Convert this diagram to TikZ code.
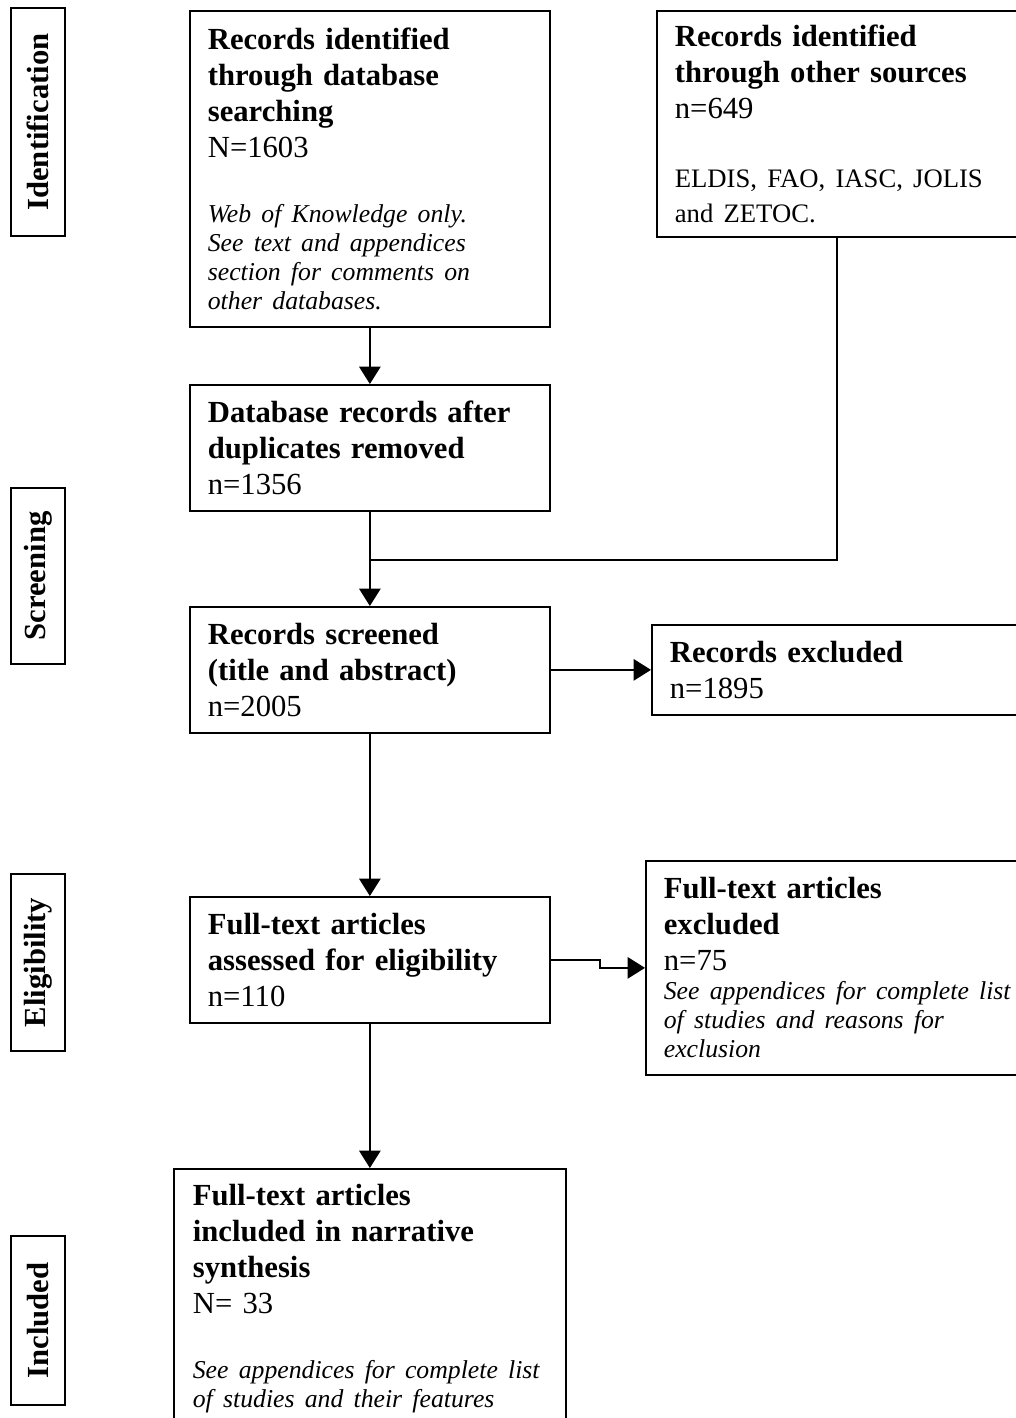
\documentclass[tikz,border=0pt]{standalone}
\usepackage{fontspec}
\setmainfont{Liberation Serif}
\usetikzlibrary{arrows.meta}

\newcommand\heading[1]{\textbf{#1}}
\newcommand\remark[1]{{\fontsize{19.3}{21.75}\selectfont\itshape #1\par}}
\newcommand\sources[1]{{\fontsize{20}{26}\selectfont #1\par}}

\begin{document}
\begin{tikzpicture}[x=0.75pt,y=-0.75pt,
  box/.style={draw,line width=1.3pt,anchor=north west,align=left,
    inner xsep=13.5pt,inner ysep=0pt,font=\fontsize{23}{27}\selectfont},
  stage/.style={draw,line width=1.3pt,rotate=90,minimum height=40.5pt,
    inner sep=0pt,font=\fontsize{23}{27}\selectfont\bfseries},
  link/.style={line width=1.3pt},
  flow/.style={link,-{Triangle[length=13pt,width=16pt]}}]
\useasboundingbox (0,0) rectangle (1016,1418);
\clip (0,0) rectangle (1016,1418);

\node [stage,minimum width=171pt] (ident) at (38,122) {Identification};
\node [stage,minimum width=132pt] (scrn) at (38,576) {Screening};
\node [stage,minimum width=132.75pt] (elig) at (38,962.5) {Eligibility};
\node [stage,minimum width=126.75pt] (incd) at (38,1320.5) {Included};

\node [box,text width=243pt,minimum height=237pt] (search) at (189,10)
  {\heading{Records identified\\through database\\searching}\\N=1603\par\vspace{27pt}
   \remark{Web of Knowledge only.\\See text and appendices\\section for comments on\\other databases.}};
\node [box,text width=273pt,minimum height=169.5pt] (other) at (656,10)
  {\heading{Records identified\\through other sources}\\n=649\par\vspace{26pt}
   \sources{ELDIS, FAO, IASC, JOLIS\\and ZETOC.}};
\node [box,text width=243pt,minimum height=94.5pt] (dedup) at (189,384)
  {\heading{Database records after\\duplicates removed}\\n=1356};
\node [box,text width=243pt,minimum height=94.5pt] (screen) at (189,606)
  {\heading{Records screened\\(title and abstract)}\\n=2005};
\node [box,text width=273pt,minimum height=67.5pt] (excl) at (651,624)
  {\heading{Records excluded}\\n=1895};
\node [box,text width=288pt,minimum height=160.5pt] (ftexcl) at (645,860)
  {\heading{Full-text articles\\excluded}\\n=75\par
   \remark{See appendices for complete list\\of studies and reasons for\\exclusion}};
\node [box,text width=243pt,minimum height=94.5pt] (full) at (189,896)
  {\heading{Full-text articles\\assessed for eligibility}\\n=110};
\node [box,text width=265.5pt,minimum height=194.25pt,inner xsep=14.25pt] (incl) at (173,1168)
  {\heading{Full-text articles\\included in narrative\\synthesis}\\N= 33\par\vspace{27pt}
   \remark{See appendices for complete list\\of studies and their features}};

\coordinate (join) at (369,560);
\draw [flow] (search.south) -- (dedup.north);
\draw [flow] (dedup.south) -- (screen.north);
\draw [link] ([xshift=135.75pt]other.south west) |- (join);
\draw [flow] (screen.east) -- ++(52,0) |- (excl.west);
\draw [flow] (screen.south) -- (full.north);
\draw [flow] (full.east) -- ++(49,0) |- (ftexcl.west);
\draw [flow] (full.south) -- (incl.north);
\end{tikzpicture}
\end{document}
